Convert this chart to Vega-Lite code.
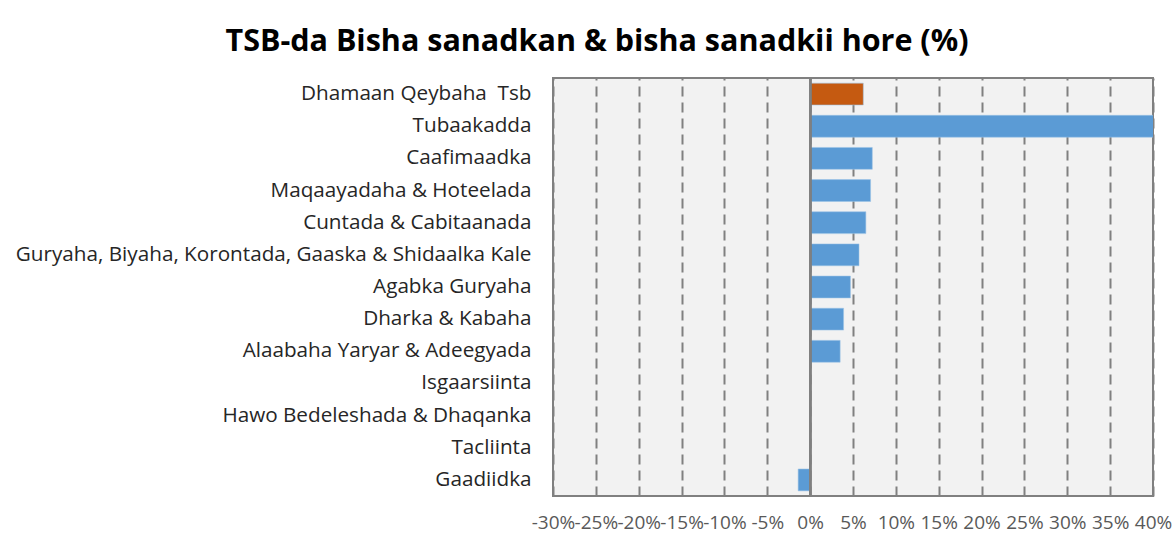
{
  "$schema": "https://vega.github.io/schema/vega-lite/v6.json",
  "width": 600,
  "height": 418,
  "autosize": {"type": "none"},
  "padding": {"left": 553, "top": 78, "right": 22, "bottom": 45},
  "background": "white",
  "title": {
    "text": "TSB-da Bisha sanadkan & bisha sanadkii hore (%)",
    "font": "Open Sans",
    "fontSize": 30.5,
    "fontWeight": "bold",
    "color": "#000000",
    "anchor": "middle",
    "frame": "group",
    "dx": -256,
    "offset": 20
  },
  "config": {
    "view": {"fill": "#f2f2f2", "stroke": "#808080", "strokeWidth": 2},
    "font": "Open Sans"
  },
  "data": {
    "values": [
      {"category": "Dhamaan Qeybaha\u00a0 Tsb", "value": 6.2, "group": "total"},
      {"category": "Tubaakadda", "value": 45, "group": "item"},
      {"category": "Caafimaadka", "value": 7.25, "group": "item"},
      {"category": "Maqaayadaha & Hoteelada", "value": 7.05, "group": "item"},
      {"category": "Cuntada & Cabitaanada", "value": 6.5, "group": "item"},
      {"category": "Guryaha, Biyaha, Korontada, Gaaska & Shidaalka Kale", "value": 5.7, "group": "item"},
      {"category": "Agabka Guryaha", "value": 4.7, "group": "item"},
      {"category": "Dharka & Kabaha", "value": 3.9, "group": "item"},
      {"category": "Alaabaha Yaryar & Adeegyada", "value": 3.5, "group": "item"},
      {"category": "Isgaarsiinta", "value": 0, "group": "item"},
      {"category": "Hawo Bedeleshada & Dhaqanka", "value": 0, "group": "item"},
      {"category": "Tacliinta", "value": 0, "group": "item"},
      {"category": "Gaadiidka", "value": -1.4, "group": "item"}
    ]
  },
  "layer": [
    {
      "mark": {"type": "bar", "clip": true, "stroke": "#9dc3e6", "strokeWidth": 0.8, "strokeOpacity": 0.7},
      "encoding": {
        "y": {
          "field": "category",
          "type": "nominal",
          "sort": null,
          "scale": {"paddingInner": 0.32, "paddingOuter": 0.16},
          "axis": {
            "title": null,
            "ticks": false,
            "domain": false,
            "labelFontSize": 20.7,
            "labelColor": "#262626",
            "labelPadding": 22,
            "labelLimit": 600
          }
        },
        "x": {
          "field": "value",
          "type": "quantitative",
          "scale": {"domain": [-30, 40], "nice": false, "zero": false},
          "axis": {
            "title": null,
            "values": [-30, -25, -20, -15, -10, -5, 0, 5, 10, 15, 20, 25, 30, 35, 40],
            "labelExpr": "datum.value + '%'",
            "labelFontSize": 19,
            "labelColor": "#595959",
            "labelPadding": 17,
            "ticks": false,
            "domain": false,
            "grid": true,
            "gridColor": "#808080",
            "gridDash": [10, 6],
            "gridWidth": 2,
            "labelOverlap": false,
            "labelFlush": false
          }
        },
        "color": {
          "field": "group",
          "type": "nominal",
          "scale": {"domain": ["total", "item"], "range": ["#c55a11", "#5b9bd5"]},
          "legend": null
        }
      }
    },
    {
      "mark": {"type": "rule", "color": "#808080", "strokeWidth": 2},
      "encoding": {"x": {"datum": 0}}
    }
  ]
}
